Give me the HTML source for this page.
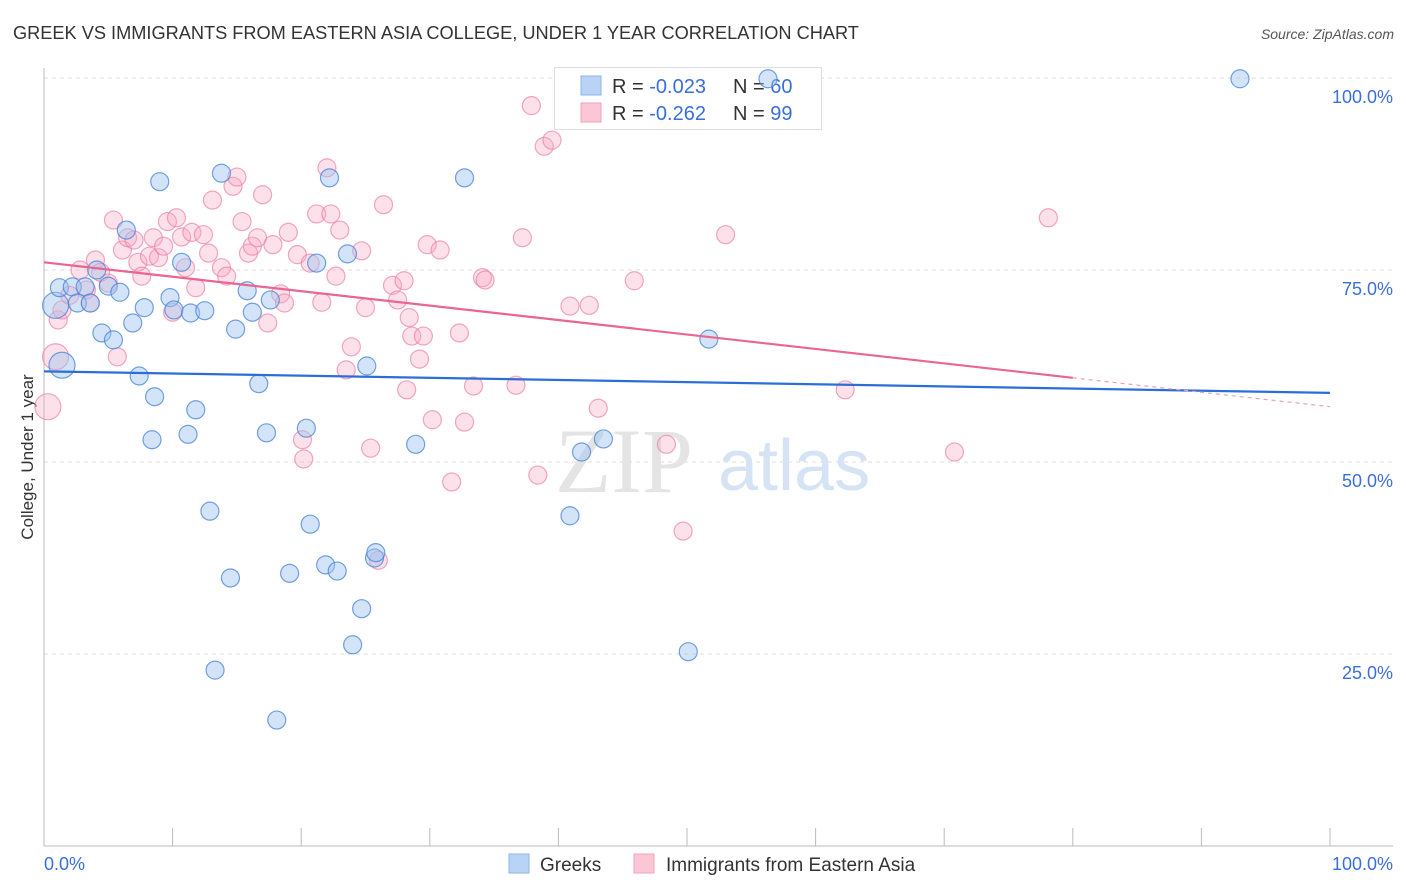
<!DOCTYPE html>
<html><head><meta charset="utf-8"><style>
body{margin:0;background:#fff;font-family:"Liberation Sans",sans-serif;}
svg{display:block}
</style></head><body>
<svg id="chart" width="1406" height="892" xmlns="http://www.w3.org/2000/svg">
<text x="13" y="39" font-size="18.2" fill="#333">GREEK VS IMMIGRANTS FROM EASTERN ASIA COLLEGE, UNDER 1 YEAR CORRELATION CHART</text>
<text x="1394" y="39" font-size="14" fill="#555" font-style="italic" text-anchor="end">Source: ZipAtlas.com</text>
<text x="33" y="457" font-size="17" fill="#333" text-anchor="middle" transform="rotate(-90 33 457)">College, Under 1 year</text>
<g id="grid"></g>
<g id="axes"></g>
<text x="555" y="492" font-size="92" fill="#e4e4e4" font-family="Liberation Serif,serif">ZIP</text>
<text x="718" y="490" font-size="72" fill="#d6e3f5">atlas</text>
<g>
<rect x="554.5" y="67.5" width="267" height="62" fill="#fff" stroke="#ddd"/>
<rect x="581" y="76" width="20" height="19" fill="#b8d3f5" stroke="#8fb4ea"/>
<rect x="581" y="103" width="20" height="19" fill="#fbc6d6" stroke="#f1a3bb"/>
<text x="612" y="93" font-size="20" fill="#333">R = <tspan fill="#3a6fd8">-0.023</tspan><tspan x="733">N = </tspan><tspan fill="#3a6fd8">60</tspan></text>
<text x="612" y="120" font-size="20" fill="#333">R = <tspan fill="#3a6fd8"> -0.262</tspan><tspan x="733">N = </tspan><tspan fill="#3a6fd8"> 99</tspan></text>
</g>
<g id="pts"></g>
<g id="trends"></g>
<g>
<rect x="509" y="854" width="20" height="19" fill="#b8d3f5" stroke="#8fb4ea"/>
<text x="540" y="871" font-size="19" fill="#333">Greeks</text>
<rect x="634" y="854" width="20" height="19" fill="#fbc6d6" stroke="#f1a3bb"/>
<text x="666" y="871" font-size="19" fill="#333">Immigrants from Eastern Asia</text>
</g>
</svg>
<script>
const yTicks=[25,50,75,100];
const yTickLabels=["25.0%","50.0%","75.0%","100.0%"];
const xTickLabels=["0.0%","100.0%"];
const blueX=[0.9,1.4,1.2,2.2,3.2,2.6,3.6,4.1,5.0,5.9,4.5,5.4,6.4,6.9,7.4,7.8,8.6,8.4,9.0,9.8,10.1,10.7,11.2,11.4,11.8,12.5,12.9,13.3,13.8,14.5,14.9,15.8,16.2,16.7,17.3,17.6,18.1,19.1,20.4,20.7,21.2,21.9,22.2,22.8,23.6,24.0,24.7,25.1,25.7,25.8,28.9,32.7,40.9,41.8,43.5,50.1,51.7,56.3,93.0];
const blueY=[70.4,62.6,72.7,72.8,72.8,70.7,70.7,75.0,72.9,72.1,66.8,65.9,80.2,68.1,61.2,70.1,58.5,52.9,86.5,71.4,69.8,76.0,53.6,69.4,56.8,69.7,43.6,22.9,87.6,34.9,67.3,72.3,69.5,60.2,53.8,71.1,16.4,35.5,54.4,41.9,75.9,36.6,87.0,35.8,77.1,26.2,30.9,62.5,37.5,38.2,52.3,87.0,43.0,51.3,53.0,25.3,66.0,99.9,99.9];
const pinkX=[0.3,0.9,1.1,1.4,2.0,2.8,3.3,3.6,4.0,4.4,5.0,5.4,5.7,6.1,6.5,7.0,7.3,7.6,8.2,8.5,8.9,9.3,9.6,10.0,10.3,10.7,11.0,11.5,11.8,12.4,12.8,13.1,13.8,14.2,14.7,15.0,15.4,15.9,16.2,16.6,17.0,17.4,17.8,18.4,18.7,19.0,19.7,20.1,20.2,20.7,21.2,21.6,22.3,22.7,23.0,23.9,23.5,24.7,25.0,25.4,26.4,27.1,27.5,28.0,28.4,28.6,29.2,29.5,28.2,29.8,30.2,30.8,31.7,32.3,32.7,33.4,34.1,34.3,36.7,37.2,37.9,38.4,38.9,39.5,40.9,42.4,43.1,45.9,48.4,49.7,53.0,62.3,70.8,78.1,26.0,22.0];
const pinkY=[57.2,63.7,68.5,69.8,71.7,75.0,72.4,70.7,76.3,74.7,73.3,81.5,63.7,77.6,79.2,78.9,76.0,74.2,76.8,79.2,76.6,78.1,81.3,69.5,81.8,79.3,75.3,79.9,72.7,79.6,77.2,84.1,75.3,74.2,85.9,87.1,81.3,77.2,78.1,79.2,84.8,68.1,78.3,71.9,70.7,79.9,77.0,52.9,50.4,75.9,82.3,70.8,82.3,74.2,80.2,65.0,62.0,77.5,70.1,51.8,83.5,73.0,71.1,73.6,68.8,66.4,63.4,66.4,59.4,78.3,55.5,77.6,47.4,66.8,55.2,59.9,74.0,73.7,60.0,79.2,96.4,48.3,91.1,91.9,70.3,70.4,57.0,73.6,52.3,41.0,79.6,59.4,51.3,81.8,37.2,88.3];
const blueTrend=[61.8,59.0];
const pinkTrend=[76.0,57.2];
const pinkSolidEnd=80;

const NS="http://www.w3.org/2000/svg";
const X=v=>44+v*12.86;
const Y=v=>846-v*7.68;
function mk(tag,attrs,parent){const e=document.createElementNS(NS,tag);for(const k in attrs)e.setAttribute(k,attrs[k]);parent.appendChild(e);return e;}
const grid=document.getElementById('grid'),axes=document.getElementById('axes'),pts=document.getElementById('pts'),tr=document.getElementById('trends');
yTicks.forEach((t,i)=>{
 const l=mk('line',{x1:44,x2:1393,y1:Y(t),y2:Y(t),stroke:'#ddd','stroke-dasharray':'4,4'},grid);
 
 
 const tx=mk('text',{x:1393,y:Y(t)+25,'font-size':18,fill:'#3a6fd8','text-anchor':'end'},axes);
 tx.textContent=yTickLabels[i];
 
 
});
mk('line',{x1:44,x2:44,y1:68,y2:846,stroke:'#bbb'},axes);
mk('line',{x1:44,x2:1393,y1:846,y2:846,stroke:'#bbb'},axes);
for(let i=0;i<=10;i++){const t=mk('line',{x1:X(i*10),x2:X(i*10),y1:828,y2:846,stroke:'#bbb'},axes);
 
 }
const xl0=mk('text',{x:44,y:870,'font-size':18,fill:'#3a6fd8'},axes);xl0.textContent=xTickLabels[0];


const xl1=mk('text',{x:1393,y:870,'font-size':18,fill:'#3a6fd8','text-anchor':'end'},axes);xl1.textContent=xTickLabels[1];


pinkX.forEach((x,i)=>{const c=mk('circle',{cx:X(x),cy:Y(pinkY[i]),r:(i<2?13:9),fill:'rgba(248,170,195,0.35)',stroke:'rgba(236,130,165,0.7)','stroke-width':1.2},pts);
 
 });
blueX.forEach((x,i)=>{const c=mk('circle',{cx:X(x),cy:Y(blueY[i]),r:(i<2?13:9),fill:'rgba(160,196,240,0.45)',stroke:'rgba(70,130,215,0.75)','stroke-width':1.2},pts);
 
 });
const bl=mk('line',{x1:X(0),y1:Y(blueTrend[0]),x2:X(100),y2:Y(blueTrend[1]),stroke:'#2b6fd6','stroke-width':2.2},tr);


const pe=pinkTrend[0]+(pinkTrend[1]-pinkTrend[0])*pinkSolidEnd/100;
const pl=mk('line',{x1:X(0),y1:Y(pinkTrend[0]),x2:X(pinkSolidEnd),y2:Y(pe),stroke:'#e8668f','stroke-width':2.2},tr);


const pd=mk('line',{x1:X(pinkSolidEnd),y1:Y(pe),x2:X(100),y2:Y(pinkTrend[1]),stroke:'#e8a0b6','stroke-width':1.2,'stroke-dasharray':'4,4'},tr);


</script>
</body></html>
